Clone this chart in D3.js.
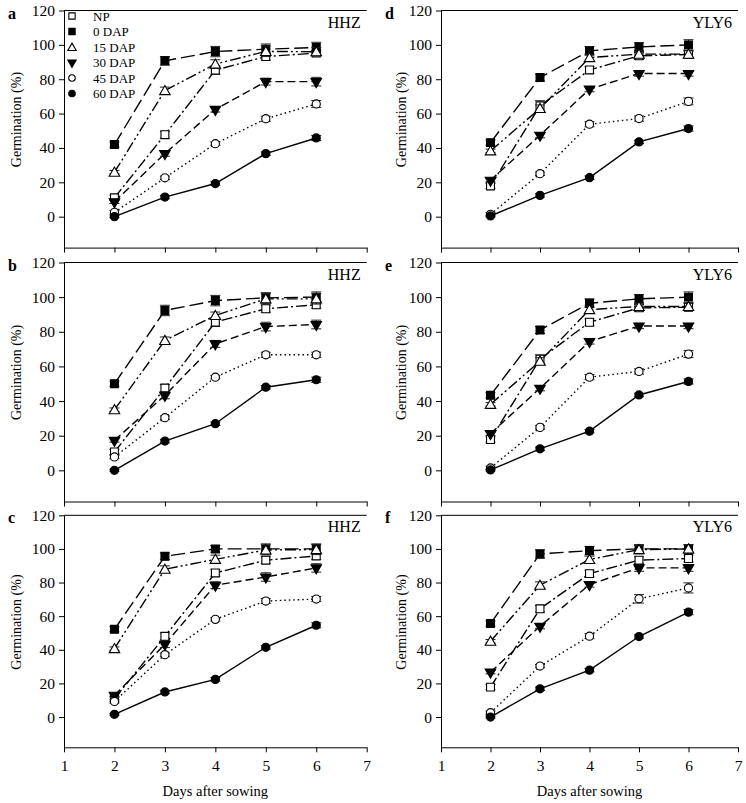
<!DOCTYPE html>
<html><head><meta charset="utf-8">
<script src="https://cdn.jsdelivr.net/npm/d3@7"></script>
<style>body{margin:0;background:#fff}svg{display:block}text{font-family:"Liberation Serif","Times New Roman",serif;fill:#000}</style>
</head><body><svg id="c" width="746" height="803"></svg>
<script>
const days = [2, 3, 4, 5, 6];
const seriesNames = ["NP", "0 DAP", "15 DAP", "30 DAP", "45 DAP", "60 DAP"];
const yTicks = [0, 20, 40, 60, 80, 100, 120];
const xTicks = [1, 2, 3, 4, 5, 6, 7];
const panelLetters = ["a", "b", "c", "d", "e", "f"];
const cultivars = ["HHZ", "HHZ", "HHZ", "YLY6", "YLY6", "YLY6"];

// rows: NP, 0 DAP, 15 DAP, 30 DAP, 45 DAP, 60 DAP
const valuesA = [[11, 47.7, 85.3, 93.2, 95.2], [42, 90.7, 96.1, 97.5, 98.5], [25.9, 73.4, 88.8, 96.2, 96], [8.7, 36.7, 62.4, 78.6, 78.6], [2.5, 22.6, 42.5, 57, 65.6], [0, 11.4, 19.3, 36.7, 45.8]];
const valuesB = [[10.6, 47.5, 85.6, 93.3, 95.6], [50, 92.3, 98, 99.6, 100], [35, 75, 89.4, 99, 99], [17.3, 43.3, 73, 83, 84.2], [7.7, 30.4, 53.8, 66.7, 66.7], [0, 16.9, 26.9, 48, 52.3]];
const valuesC = [[10.9, 48, 85.7, 93.3, 95.8], [52.2, 95.6, 100, 100, 100], [40.7, 87.9, 93.8, 99.4, 99.6], [12.9, 43.3, 78.4, 83.3, 88.7], [9.3, 37.1, 58.1, 69, 70.2], [1.6, 14.9, 22.4, 41.5, 54.6]];
const valuesD = [[17.9, 64.5, 85.4, 93.6, 94.4], [43.1, 81, 96.5, 98.8, 100], [38.3, 63, 92.6, 94.6, 94.6], [21.2, 47.4, 74.2, 83.3, 83.3], [1.4, 25, 53.8, 57.1, 67.1], [0.4, 12.4, 22.7, 43.5, 51.3]];
const valuesE = [[17.8, 64.2, 85.5, 93.8, 94.2], [43.3, 81, 96.5, 99, 100], [38.1, 63, 92.8, 94.6, 94.6], [21.2, 47.4, 74.4, 83.3, 83.3], [1.4, 24.8, 53.8, 57.1, 67.1], [0.2, 12.4, 22.6, 43.5, 51.3]];
const valuesF = [[17.8, 64.4, 85.3, 93.3, 94.3], [55.6, 97, 99, 100, 100], [45.1, 78.4, 93.7, 99.6, 100], [26.7, 54, 78.8, 88.7, 88.7], [2.6, 30.3, 48.1, 70.3, 76.8], [0, 16.8, 27.9, 47.9, 62.4]];

const errorsA = [[1.5, 2, 2.5, 2, 1.5], [1.5, 2.5, 3, 3, 3], [1, 2, 2.5, 3, 2.5], [1, 1.5, 1.5, 2, 2.5], [1, 1, 1, 1.5, 2], [0.5, 1, 1, 1, 1.5]];
const errorsB = [[1.5, 2, 2.5, 2, 2], [1.5, 3, 3, 3, 3], [1, 2, 2, 3, 3], [1, 2, 2, 2.5, 2.5], [1, 1, 1, 1.5, 1.5], [0.5, 1, 1, 1, 1.5]];
const errorsC = [[1.5, 2, 2, 2, 2], [1.5, 2, 2, 3, 3], [1, 2, 2.5, 3, 3], [1, 2, 2, 2.5, 2.5], [1, 1, 1, 1.5, 1.5], [0.5, 1, 1, 1, 1.5]];
const errorsD = [[1.5, 3, 2, 2, 2], [1.5, 2, 2.5, 2.5, 3], [1, 2, 2, 2, 2], [1, 1.5, 1.5, 1.5, 1.5], [1, 1, 1.5, 1.5, 2], [0.5, 1, 1, 1, 1.5]];
const errorsE = [[1.5, 2.5, 2, 2, 2], [1.5, 2, 2.5, 2.5, 3], [1, 2, 2, 2, 2], [1, 1.5, 1.5, 1.5, 1.5], [1, 1, 1.5, 1.5, 2], [0.5, 1, 1, 1, 1.5]];
const errorsF = [[1.5, 2, 2, 2, 2], [1.5, 2.5, 2.5, 2.5, 2.5], [1, 2, 2, 2.5, 2.5], [1, 1.5, 1.5, 2, 2], [1, 1, 1.5, 2.5, 3], [0.5, 1, 1, 1, 1.5]];

const panelValues = [valuesA, valuesB, valuesC, valuesD, valuesE, valuesF];
const panelErrors = [errorsA, errorsB, errorsC, errorsD, errorsE, errorsF];

// styles per series
const dashes = ["11,3,2,3", "14,5", "11,3,2,3,2,3", "8,4", "1.5,3", null];
const shapes = ["square", "square", "tri", "tridown", "circle", "circle"];
const filled = [false, true, false, true, false, true];

const svg = d3.select("#c");
const cols = [{x0: 64, x1: 366.7, letterX: 8, titleX: 16}, {x0: 441, x1: 738, letterX: 385, titleX: 401}];
const rows = [{top: 10.5, bottom: 247.6}, {top: 262.5, bottom: 501.5}, {top: 515.3, bottom: 747.3}];

function symbolPath(shape, legend) {
  const k = legend ? 0.8 : 1;
  if (shape === "square") return d3.symbol(d3.symbolSquare, 62 * k * k)();
  if (shape === "circle") return d3.symbol(d3.symbolCircle, 52 * k * k)();
  return d3.symbol(d3.symbolTriangle, 48 * k * k)();
}
function drawMarker(g, i, x, y, legend) {
  const p = g.append("path").attr("d", symbolPath(shapes[i], legend))
    .attr("fill", filled[i] ? "#000" : "#fff").attr("stroke", "#000").attr("stroke-width", 1.1);
  let tr = `translate(${x},${y})`;
  if (shapes[i] === "tridown") tr += " rotate(180)";
  if (shapes[i] === "tri") tr += " translate(0,1)";
  p.attr("transform", tr);
}

for (let pi = 0; pi < 6; pi++) {
  const col = cols[Math.floor(pi / 3)], row = rows[pi % 3];
  const isBottom = pi % 3 === 2;
  const x = d3.scaleLinear().domain([1, 7]).range([col.x0, col.x1]);
  const y = d3.scaleLinear().domain([-18, 120]).range([row.bottom, row.top]);
  const g = svg.append("g");

  // top frame line
  g.append("line").attr("x1", x(1)).attr("x2", x(7)).attr("y1", y(120)).attr("y2", y(120))
    .attr("stroke", "#000").attr("stroke-width", 1);

  const ya = g.append("g").attr("transform", `translate(${x(1)},0)`)
    .call(d3.axisLeft(y).tickValues(yTicks).tickSize(5).tickSizeOuter(0).tickPadding(4));
  ya.selectAll("text").style("font-size", "15.5px").style("font-family", '"Liberation Serif",serif');
  const xa = g.append("g").attr("transform", `translate(0,${y(-18)})`)
    .call(d3.axisBottom(x).tickValues(xTicks).tickSize(5).tickSizeOuter(0).tickPadding(8)
      .tickFormat(isBottom ? d3.format("d") : () => ""));
  xa.selectAll("text").style("font-size", "15.5px").style("font-family", '"Liberation Serif",serif');
  g.selectAll(".domain").attr("stroke-width", 1);

  // panel letter
  g.append("text").attr("x", col.letterX).attr("y", row.top + 8).text(panelLetters[pi])
    .style("font-size", "16px").style("font-weight", "bold");
  // cultivar
  g.append("text").attr("x", col.x1 - 6).attr("y", row.top + 17).attr("text-anchor", "end")
    .text(cultivars[pi]).style("font-size", "16px");
  // y title
  const yc = row.top + 0.46 * (row.bottom - row.top);
  g.append("text").attr("transform", `translate(${col.titleX},${yc}) rotate(-90)`)
    .attr("text-anchor", "middle").attr("dominant-baseline", "central")
    .text("Germination (%)").style("font-size", "14px");
  if (isBottom) {
    g.append("text").attr("x", (x(1) + x(7)) / 2).attr("y", 796).attr("text-anchor", "middle")
      .text("Days after sowing").style("font-size", "14.5px");
  }

  const vals = panelValues[pi], errs = panelErrors[pi];
  const line = d3.line().x((d, j) => x(days[j])).y(d => y(d));
  for (let s = 0; s < 6; s++) {
    g.append("path").datum(vals[s]).attr("d", line).attr("fill", "none")
      .attr("stroke", "#000").attr("stroke-width", 1.4)
      .attr("stroke-dasharray", dashes[s]);
  }
  for (let s = 0; s < 6; s++) {
    vals[s].forEach((v, j) => {
      const cx = x(days[j]);
      const e = errs[s][j];
      g.append("line").attr("x1", cx).attr("x2", cx).attr("y1", y(v - e)).attr("y2", y(v + e))
        .attr("stroke", "#222").attr("stroke-width", 1);
      [v - e, v + e].forEach(t => g.append("line").attr("x1", cx - 5).attr("x2", cx + 5)
        .attr("y1", y(t)).attr("y2", y(t)).attr("stroke", "#222").attr("stroke-width", 1));
    });
    vals[s].forEach((v, j) => drawMarker(g, s, x(days[j]), y(v), false));
  }

  if (pi === 0) {
    const lg = g.append("g");
    seriesNames.forEach((nm, s) => {
      const ly = 16 + s * 15.5;
      drawMarker(lg, s, 72, ly, true);
      lg.append("text").attr("x", 93).attr("y", ly).attr("dominant-baseline", "central")
        .text(nm).style("font-size", "13px");
    });
  }
}
</script></body></html>
